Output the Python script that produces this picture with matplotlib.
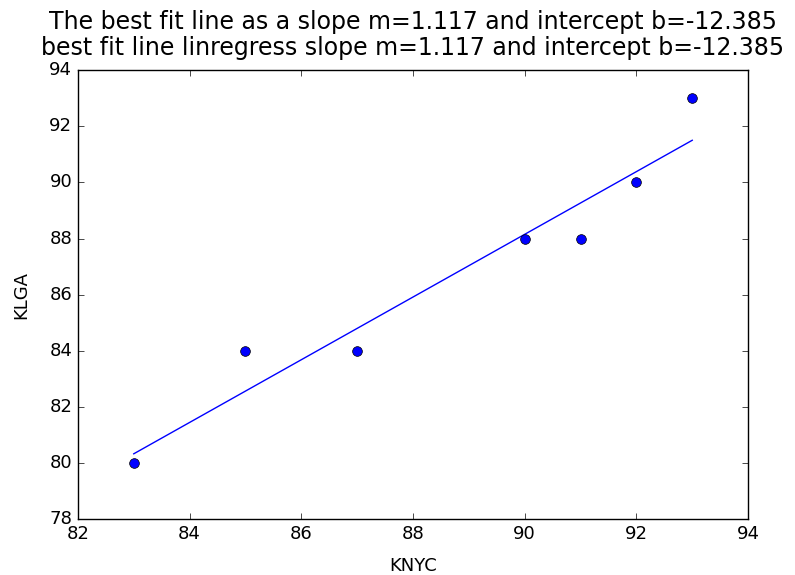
import numpy as np
import matplotlib
matplotlib.use('Agg')
import matplotlib.pyplot as plt

plt.style.use('classic')

# temperatures
knyc = [83, 85, 87, 90, 91, 92, 93]
klga = [80, 84, 84, 88, 88, 90, 93]

# best fit line
x = np.array(knyc, dtype=float)
y = np.array(klga, dtype=float)
m = ((x - x.mean()) * (y - y.mean())).sum() / ((x - x.mean()) ** 2).sum()
b = y.mean() - m * x.mean()

fig = plt.figure(figsize=(7.95, 5.75), dpi=100)
fig.patch.set_facecolor('white')
ax = fig.add_axes([0.098, 0.097, 0.843, 0.781])

ax.plot(x, m * x + b, 'b-')
ax.plot(x, y, 'bo', markersize=7)

ax.set_xlim(82, 94)
ax.set_ylim(78, 94)
ax.tick_params(labelsize=13)
ax.set_xlabel('KNYC', fontsize=13, labelpad=10)
ax.set_ylabel('KLGA', fontsize=13, labelpad=14)
ax.set_title('The best fit line as a slope m=%.3f and intercept b=%.3f\n'
             'best fit line linregress slope m=%.3f and intercept b=%.3f' % (m, b, m, b),
             fontsize=17, pad=11, linespacing=1.1)

fig.savefig('out.png', dpi=100, facecolor='white')
